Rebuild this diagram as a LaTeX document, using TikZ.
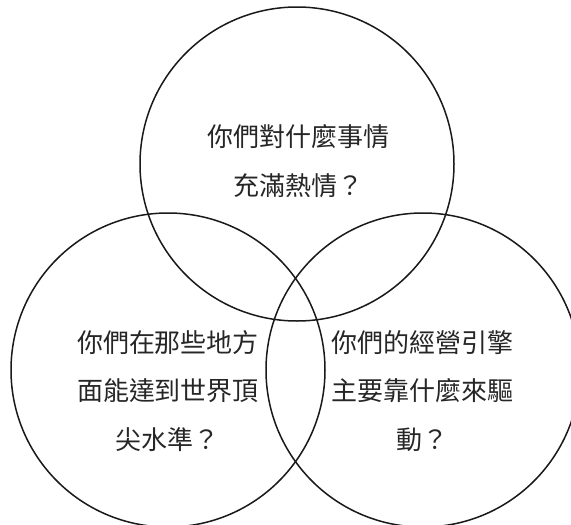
\documentclass[tikz,border=0pt]{standalone}
\usepackage{fontspec}
\newfontfamily\cjk{Noto Sans CJK TC}
\begin{document}
\begin{tikzpicture}[x=1pt,y=-1pt,
  ring/.style={draw=black!90,line width=1.5pt},
  label/.style={align=center,text=black!85,inner sep=0pt,
    font=\cjk\fontsize{26}{48.5}\selectfont}]
\useasboundingbox (0,0) rectangle (571,525);
\node[ring,circle,minimum size=314pt,inner sep=0pt] (top) at (297,164) {};
\node[ring,circle,minimum size=314pt,inner sep=0pt] (left) at (168,370) {};
\node[ring,circle,minimum size=314pt,inner sep=0pt] (right) at (423,370) {};
\node[label] (ttop) at (298,161) {你們對什麼事情\\充滿熱情？};
\node[label] (tleft) at (168,391) {你們在那些地方\\面能達到世界頂\\尖水準？};
\node[label] (tright) at (422,391) {你們的經營引擎\\主要靠什麼來驅\\動？};
\end{tikzpicture}
\end{document}
